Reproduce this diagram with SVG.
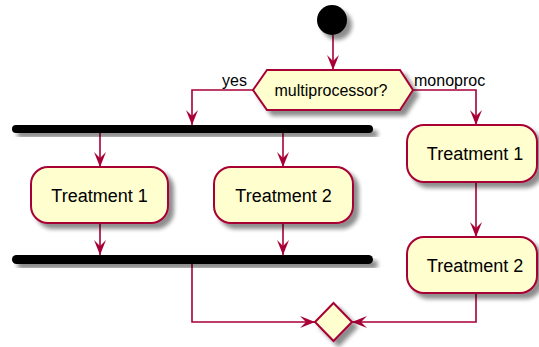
<svg xmlns="http://www.w3.org/2000/svg" width="539" height="347" viewBox="0 0 539 347">
<style>
.act{fill:#FEFECE;stroke:#A80036;stroke-width:2;filter:url(#sh)}
.bar{fill:#000;filter:url(#sh)}
.ln{fill:none;stroke:#A80036;stroke-width:1.6;marker-end:url(#ah)}
.t{font-family:"Liberation Sans",Arial,sans-serif;font-size:18px;fill:#000;text-anchor:middle}
.td{font-family:"Liberation Sans",Arial,sans-serif;font-size:16px;fill:#000;text-anchor:middle}
.tl{font-family:"Liberation Sans",Arial,sans-serif;font-size:16px;fill:#000}
</style>
<defs>
<filter id="sh" x="-20%" y="-20%" width="150%" height="160%">
<feGaussianBlur in="SourceAlpha" stdDeviation="2.2"/>
<feOffset dx="5" dy="5" result="b"/>
<feComponentTransfer><feFuncA type="linear" slope="0.45"/></feComponentTransfer>
<feMerge><feMergeNode/><feMergeNode in="SourceGraphic"/></feMerge>
</filter>
<marker id="ah" markerUnits="userSpaceOnUse" viewBox="0 0 15 12" refX="15" refY="6" markerWidth="15" markerHeight="12" orient="auto">
<path d="M0,0 L15,6 L0,12 L6,6 Z" fill="#A80036"/>
</marker>
</defs>
<g id="connectors">
<path class="ln" d="M333,35 L333,70"/>
<path class="ln" d="M253,90 L192,90 L192,125"/>
<path class="ln" d="M413,90 L476,90 L476,125"/>
<path class="ln" d="M100,133 L100,167"/>
<path class="ln" d="M283,133 L283,167"/>
<path class="ln" d="M100,223 L100,255"/>
<path class="ln" d="M283,223 L283,255"/>
<path class="ln" d="M192,264 L192,322 L315,322"/>
<path class="ln" d="M476,182 L476,237"/>
<path class="ln" d="M476,293 L476,322 L352,322"/>
<text class="tl" x="222" y="86">yes</text>
<text class="tl" x="414" y="86">monoproc</text>
</g>
<g id="start"><circle cx="332" cy="20" r="15" fill="#000" filter="url(#sh)"/></g>
<g id="decision">
<polygon class="act" points="253,90 267,70 400,70 413,90 400,110 267,110"/>
<text class="td" x="331" y="96">multiprocessor?</text>
</g>
<g id="fork"><rect class="bar" x="12" y="125" width="361" height="8" rx="4"/></g>
<g id="t1">
<rect class="act" x="31" y="167" width="137" height="56" rx="17"/>
<text class="t" x="99.5" y="201.5">Treatment 1</text>
</g>
<g id="t2">
<rect class="act" x="214" y="167" width="139" height="56" rx="17"/>
<text class="t" x="283.5" y="201.5">Treatment 2</text>
</g>
<g id="join"><rect class="bar" x="12" y="255" width="361" height="9" rx="4.5"/></g>
<g id="rt1">
<rect class="act" x="407" y="125" width="130" height="57" rx="17"/>
<text class="t" x="475" y="160">Treatment 1</text>
</g>
<g id="rt2">
<rect class="act" x="407" y="237" width="130" height="56" rx="17"/>
<text class="t" x="475" y="272">Treatment 2</text>
</g>
<g id="merge">
<polygon class="act" points="315,322 333.5,303 352,322 333.5,341"/>
</g>
</svg>
